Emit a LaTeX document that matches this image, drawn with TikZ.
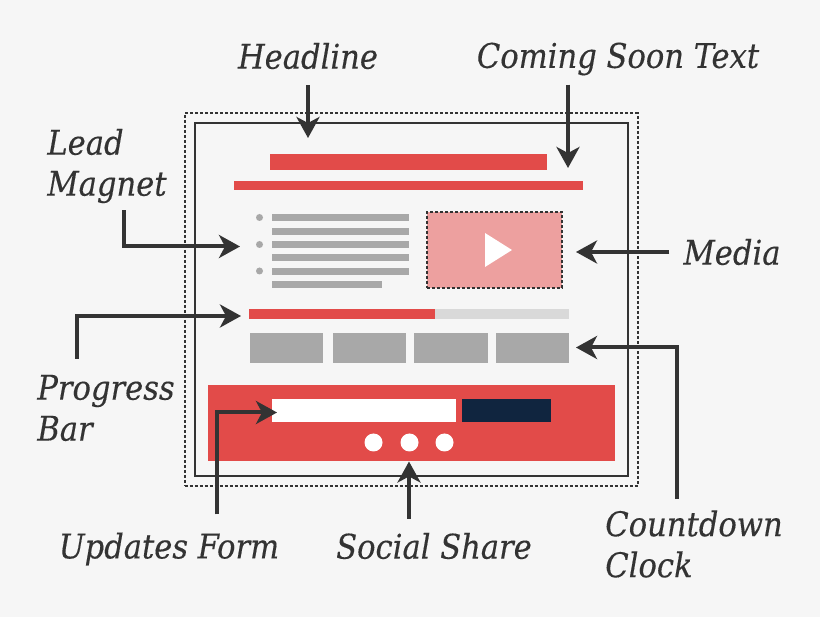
\documentclass[tikz,border=0pt]{standalone}
\usepackage{fontspec}
\setmainfont{DejaVu Serif Condensed}
\usepackage{xcolor}
\usetikzlibrary{arrows.meta}
\definecolor{pagebg}{HTML}{F6F6F6}
\definecolor{inkdark}{HTML}{333333}
\definecolor{alertred}{HTML}{E24B49}
\definecolor{softred}{HTML}{EDA09F}
\definecolor{midgrey}{HTML}{A8A8A8}
\definecolor{palegrey}{HTML}{D9D9D9}
\definecolor{navyblue}{HTML}{10253F}

\begin{document}
\begin{tikzpicture}[
    x=1pt, y=-1pt,
    block/.style={rectangle, inner sep=0, outer sep=0, anchor=north west},
    redbar/.style={block, fill=alertred},
    greybar/.style={block, fill=midgrey},
    dot/.style={circle, inner sep=0, minimum size=#1},
    callout/.style={font=\fontsize{34}{41}\selectfont\itshape\addfontfeature{FakeBold=0.25}, text=inkdark, inner sep=14pt, align=left},
    ptr/.style={-{Stealth[length=21pt, width=23pt, inset=6pt]}, line width=4pt, draw=inkdark}
]
    \useasboundingbox (0,0) rectangle (820,617);
    \fill[pagebg] (0,0) rectangle (820,617);

    % Frames
    \node[block, draw=inkdark, line width=2pt, dash pattern=on 3pt off 2pt, minimum width=453pt, minimum height=372.5pt] (frameOuter) at (184.5,113.5) {};
    \node[block, draw=inkdark, line width=2pt, minimum width=433pt, minimum height=352.5pt] (frameInner) at (195,123.5) {};

    % Titles
    \node[redbar, minimum width=277pt, minimum height=16pt] (barTitle) at (270,154) {};
    \node[redbar, minimum width=349pt, minimum height=9pt] (barSub) at (234,181) {};

    % Bullet list
    \node[dot=7pt, fill=midgrey] (bulletA) at (259.5,217.5) {};
    \node[dot=7pt, fill=midgrey] (bulletB) at (259.5,244.5) {};
    \node[dot=7pt, fill=midgrey] (bulletC) at (259.5,271) {};
    \node[greybar, minimum width=137pt, minimum height=7pt] (lineA) at (272,214.5) {};
    \node[greybar, minimum width=137pt, minimum height=7pt] (lineB) at (272,228) {};
    \node[greybar, minimum width=137pt, minimum height=7pt] (lineC) at (272,241) {};
    \node[greybar, minimum width=137pt, minimum height=7pt] (lineD) at (272,254.5) {};
    \node[greybar, minimum width=137pt, minimum height=7pt] (lineE) at (272,268) {};
    \node[greybar, minimum width=110pt, minimum height=7pt] (lineF) at (272,281) {};

    % Video
    \node[block, fill=softred, draw=inkdark, line width=2pt, dash pattern=on 3pt off 2pt, minimum width=135pt, minimum height=76pt] (mediaBox) at (427,212) {};
    \fill[white] (485,233) -- (512,250) -- (485,267) -- cycle;

    % Progress and clock
    \node[block, fill=palegrey, minimum width=320pt, minimum height=10pt] (barTrack) at (249,309) {};
    \node[redbar, minimum width=185.5pt, minimum height=10pt] (barFill) at (249,309) {};
    \node[greybar, minimum width=73.5pt, minimum height=30pt] (clockA) at (249.5,333) {};
    \node[greybar, minimum width=73.5pt, minimum height=30pt] (clockB) at (332.5,333) {};
    \node[greybar, minimum width=73.5pt, minimum height=30pt] (clockC) at (414,333) {};
    \node[greybar, minimum width=73.5pt, minimum height=30pt] (clockD) at (495.5,333) {};

    % Footer
    \node[redbar, minimum width=407pt, minimum height=76pt] (footer) at (208,385.5) {};
    \node[block, fill=white, minimum width=184pt, minimum height=23pt] (field) at (272,399) {};
    \node[block, fill=navyblue, minimum width=89pt, minimum height=23pt] (submit) at (462,399) {};
    \node[dot=18pt, fill=white] (shareA) at (373.5,442.5) {};
    \node[dot=18pt, fill=white] (shareB) at (409.5,442.5) {};
    \node[dot=18pt, fill=white] (shareC) at (444.5,442.5) {};

    % Labels
    \node[callout] (lblHeadline) at (308,56) {Headline};
    \node[callout] (lblComing) at (618,59) {Coming Soon Text};
    \node[callout] (lblLead) at (107,166) {Lead\\Magnet};
    \node[callout] (lblMedia) at (732,252) {Media};
    \node[callout] (lblProgress) at (106,408) {Progress\\Bar};
    \node[callout] (lblUpdates) at (169,549) {Updates Form};
    \node[callout] (lblSocial) at (434,546) {Social Share};
    \node[callout] (lblCountdown) at (694,544) {Countdown\\Clock};

    % Arrow tips
    \coordinate (tipHeadline) at (308,138);
    \coordinate (tipComing) at (568,168);
    \coordinate (tipLead) at (240,246.5);
    \coordinate (tipMedia) at (576,252);
    \coordinate (tipProgress) at (241,316);
    \coordinate (tipUpdates) at (277,412.5);
    \coordinate (tipCountdown) at (576,347.5);

    \draw[ptr] ([yshift=-2pt]lblHeadline.south) -- (tipHeadline);
    \draw[ptr] ([xshift=-50pt, yshift=5pt]lblComing.south) -- (tipComing);
    \draw[ptr] ([xshift=17pt, yshift=7pt]lblLead.south) |- (tipLead);
    \draw[ptr] (lblMedia.west) -- (tipMedia);
    \draw[ptr] ([xshift=-29pt, yshift=2pt]lblProgress.north) |- (tipProgress);
    \draw[ptr] ([xshift=48pt, yshift=4pt]lblUpdates.north) |- (tipUpdates);
    \draw[ptr] ([xshift=-25pt]lblSocial.north) -- ([xshift=-2.5pt]footer.south);
    \draw[ptr] ([xshift=-17pt, yshift=-3pt]lblCountdown.north) |- (tipCountdown);
\end{tikzpicture}
\end{document}
